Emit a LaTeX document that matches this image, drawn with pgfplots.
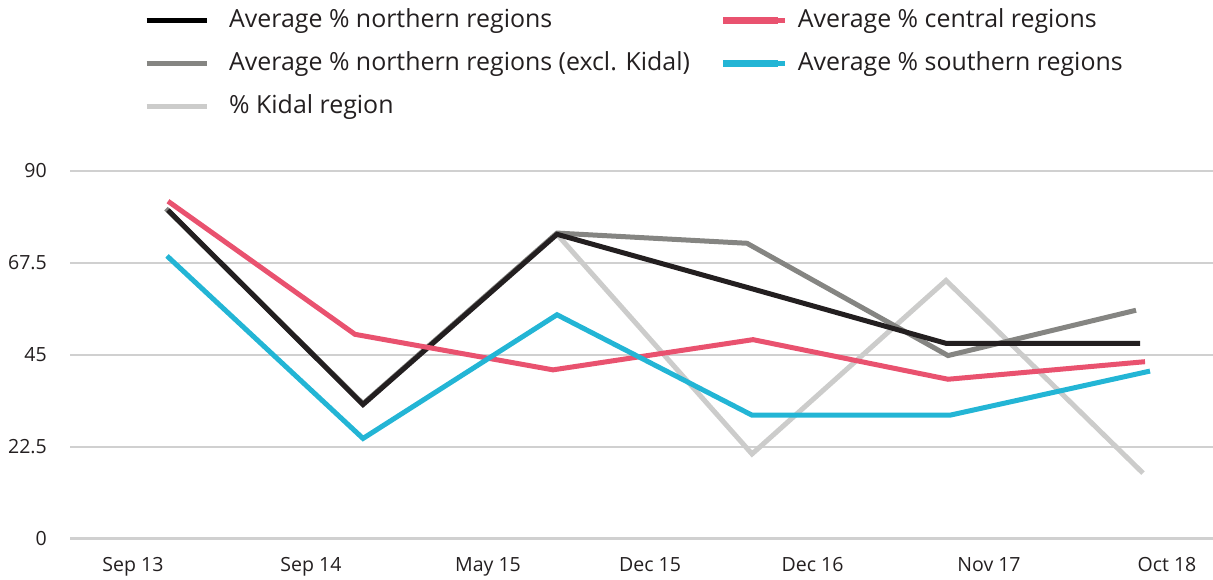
\documentclass[border=0pt]{standalone}
\usepackage{fontspec}
\setmainfont{Open Sans}
\usepackage{pgfplots}
\pgfplotsset{compat=1.18}
\definecolor{cblack}{HTML}{231F20}
\definecolor{cgray}{HTML}{858582}
\definecolor{clight}{HTML}{CCCCCB}
\definecolor{cpink}{HTML}{E9526F}
\definecolor{ccyan}{HTML}{23B5D5}
\definecolor{gridc}{HTML}{D0D0D0}
\definecolor{txt}{HTML}{231F20}
\pgfplotsset{narrowimg/.style={legend image code/.code={\draw[##1, line width=5bp, overlay] (0bp,1bp) -- (60bp,1bp); \path (0bp,0bp) rectangle (50bp,2bp);}}}
\begin{document}
\begin{tikzpicture}
\useasboundingbox (0,0) rectangle (1213bp,580bp);
\begin{axis}[
  at={(70bp,41.5bp)}, anchor=south west,
  scale only axis, width=1143bp, height=367.5bp,
  xmin=70, xmax=1213, ymin=0, ymax=90,
  axis line style={draw=none},
  major tick length=0pt,
  xtick={133,311,488,650,812.5,989,1167},
  xticklabels={Sep 13,Sep 14,May 15,Dec 15,Dec 16,Nov 17,Oct 18},
  ytick={0,22.5,45,67.5,90},
  yticklabels={0,22.5,45,67.5,90},
  ymajorgrids, grid style={gridc, line width=2bp},
  tick label style={font=\fontsize{19.6}{23}\selectfont, text=txt, inner sep=0pt},
  xticklabel style={anchor=base, yshift=-33bp},
  yticklabel style={anchor=east, xshift=-23bp},
  legend columns=2,
  legend cell align=left,
  legend style={at={(0.06475,1.4354)}, anchor=north west, draw=none, fill=none, inner sep=0pt,
     font=\fontsize{25}{29}\selectfont, text=txt,
     nodes={inner sep=0pt, text height=16bp, text depth=5bp},
     row sep=22bp,
     /tikz/every odd column/.append style={column sep=20bp},
     /tikz/every even column/.append style={column sep=33bp}},
  legend image code/.code={\draw[#1, line width=5bp] (0bp,1bp) -- (60bp,1bp);},
  every axis plot/.append style={line width=5bp, line join=miter},
  clip=false,
]
\addlegendimage{black}
\addlegendentry{Average \% northern regions}
\addlegendimage{cpink, narrowimg}
\addlegendentry{Average \% central regions}
\addlegendimage{cgray}
\addlegendentry{Average \% northern regions (excl. Kidal)}
\addlegendimage{ccyan, narrowimg}
\addlegendentry{Average \% southern regions}
\addlegendimage{clight}
\addlegendentry{\% Kidal region}

% Kidal region
\addplot[clight, forget plot] coordinates {(557,74.5) (752,20.7) (946,63.2) (1143,16.0)};
% northern excl. Kidal
\addplot[cgray, forget plot] coordinates {(166,80.8) (363,33.0) (557,74.8) (747,72.3) (948,44.8) (1136,55.9)};
% northern
\addplot[cblack, forget plot] coordinates {(168,80.4) (363,32.8) (557,74.5) (750,61.3) (946,47.8) (1140,47.8)};
% central
\addplot[cpink, forget plot] coordinates {(168,82.6) (355,50.0) (553,41.3) (753,48.7) (948,39.0) (1145,43.3)};
% southern
\addplot[ccyan, forget plot] coordinates {(167,69.2) (363,24.5) (557,54.8) (752,30.2) (950,30.2) (1150,41.0)};
\end{axis}
\end{tikzpicture}
\end{document}
